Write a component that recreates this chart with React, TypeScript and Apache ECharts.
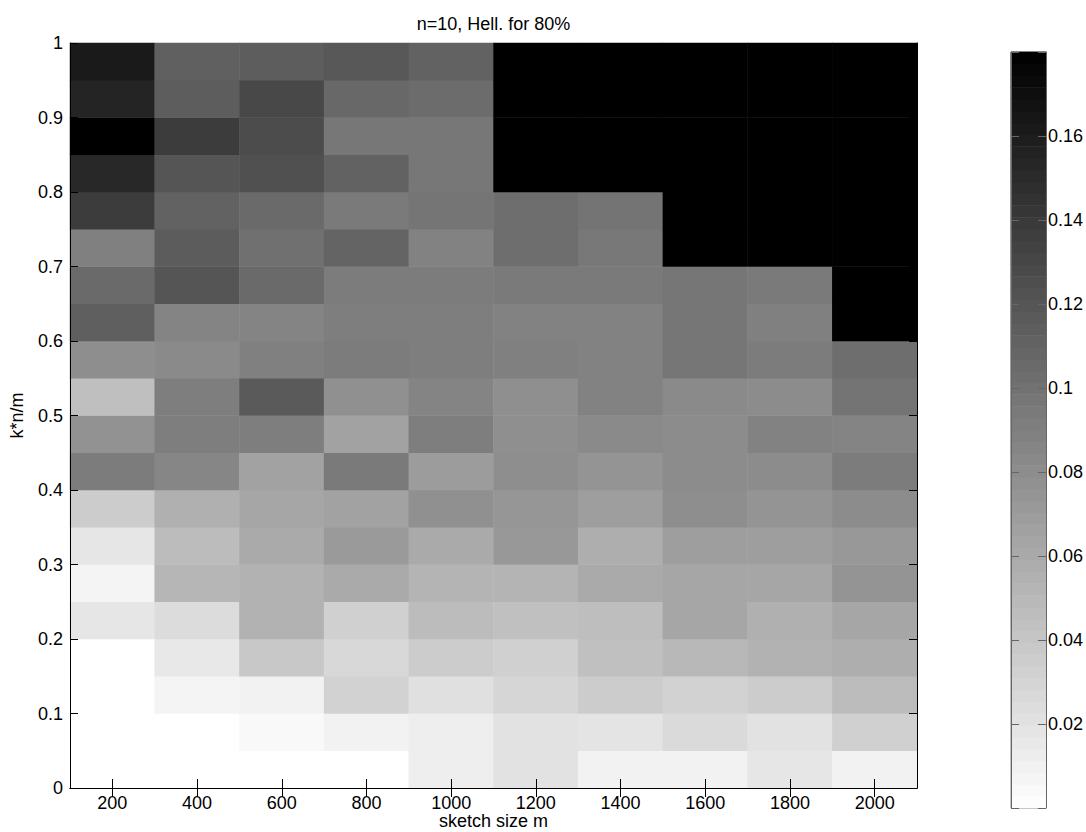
import React, { useEffect, useRef } from "react";
import * as echarts from "echarts";

// sketch size m (columns)
const sketchSizes = [200, 400, 600, 800, 1000, 1200, 1400, 1600, 1800, 2000];
// k*n/m bins (rows), lower edges from 0 to 0.95 in steps of 0.05
const ratioBins = [
  "0.00", "0.05", "0.10", "0.15", "0.20", "0.25", "0.30", "0.35", "0.40", "0.45",
  "0.50", "0.55", "0.60", "0.65", "0.70", "0.75", "0.80", "0.85", "0.90", "0.95",
];
const yTickLabels = [0, 0.1, 0.2, 0.3, 0.4, 0.5, 0.6, 0.7, 0.8, 0.9, 1];
const colorbarTicks = [0.02, 0.04, 0.06, 0.08, 0.1, 0.12, 0.14, 0.16];
const colorMax = 0.18;

// Hellinger error per sketch size, from k*n/m = 0.025 (bottom) up to 0.975 (top)
const hellM200 = [0.0, 0.0, 0.0, 0.0, 0.0176, 0.0078, 0.0176, 0.036, 0.0925, 0.0769, 0.0452, 0.0798, 0.1129, 0.1052, 0.0896, 0.1376, 0.1518, 0.18, 0.1546, 0.1616];
const hellM400 = [0.0, 0.0, 0.0078, 0.0162, 0.0247, 0.0515, 0.0473, 0.0558, 0.0854, 0.0911, 0.0911, 0.0826, 0.0868, 0.12, 0.1151, 0.1108, 0.12, 0.1376, 0.1144, 0.1122];
const hellM600 = [0.0, 0.0042, 0.0092, 0.0388, 0.0544, 0.0544, 0.06, 0.0628, 0.0656, 0.0911, 0.1165, 0.0896, 0.0868, 0.1052, 0.1009, 0.1052, 0.1235, 0.1264, 0.1292, 0.1144];
const hellM800 = [0.0, 0.0092, 0.0318, 0.0275, 0.0332, 0.06, 0.0713, 0.0656, 0.0939, 0.0656, 0.0784, 0.0925, 0.0911, 0.0925, 0.1094, 0.0939, 0.1108, 0.096, 0.1066, 0.1179];
const hellM1000 = [0.012, 0.012, 0.0219, 0.036, 0.0473, 0.0529, 0.06, 0.0784, 0.0699, 0.0911, 0.0868, 0.0911, 0.0911, 0.0925, 0.0882, 0.0974, 0.096, 0.096, 0.1038, 0.1108];
const hellM1200 = [0.0205, 0.0205, 0.0289, 0.0332, 0.0445, 0.0529, 0.0727, 0.0741, 0.0798, 0.0791, 0.0791, 0.0896, 0.0882, 0.0939, 0.1024, 0.1024, 0.18, 0.18, 0.18, 0.18];
const hellM1400 = [0.0092, 0.0191, 0.036, 0.0445, 0.0459, 0.06, 0.0572, 0.0685, 0.0755, 0.0826, 0.0882, 0.0882, 0.0882, 0.0939, 0.0953, 0.0981, 0.18, 0.18, 0.18, 0.18];
const hellM1600 = [0.0092, 0.0261, 0.0318, 0.0501, 0.0628, 0.0628, 0.0685, 0.0798, 0.0812, 0.0812, 0.0826, 0.0967, 0.0967, 0.0967, 0.18, 0.18, 0.18, 0.18, 0.18, 0.18];
const hellM1800 = [0.0176, 0.0205, 0.036, 0.0544, 0.0558, 0.0628, 0.0685, 0.0755, 0.0812, 0.0882, 0.0812, 0.0925, 0.0896, 0.0939, 0.18, 0.18, 0.18, 0.18, 0.18, 0.18];
const hellM2000 = [0.0092, 0.0332, 0.0473, 0.0572, 0.0628, 0.0755, 0.0727, 0.0812, 0.0925, 0.0868, 0.0981, 0.1024, 0.18, 0.18, 0.18, 0.18, 0.18, 0.18, 0.18, 0.18];

const columns = [hellM200, hellM400, hellM600, hellM800, hellM1000, hellM1200, hellM1400, hellM1600, hellM1800, hellM2000];

const colorLevels = 64;

const FONT = "'Liberation Sans', Arial, Helvetica, sans-serif";

export default function App() {
  const ref = useRef<HTMLDivElement>(null);

  useEffect(() => {
    if (!ref.current) return;
    const chart = echarts.init(ref.current, undefined, { renderer: "svg" });

    const heatData: number[][] = [];
    columns.forEach((col, xi) => {
      col.forEach((v, yi) => heatData.push([xi, yi, v]));
    });

    const levelCats: string[] = [];
    const barData: number[][] = [];
    for (let i = 0; i < colorLevels; i++) {
      levelCats.push(String(i));
      barData.push([0, i, ((i + 0.5) / colorLevels) * colorMax]);
    }

    const tickFmt1 = (v: number) => {
      const r = Math.round(v * 10) / 10;
      return yTickLabels.some((t) => Math.abs(t - r) < 1e-9) && Math.abs(v - r) < 1e-6 ? String(r) : "";
    };
    const tickFmtCb = (v: number) => {
      const r = Math.round(v * 100) / 100;
      return colorbarTicks.some((t) => Math.abs(t - v) < 1e-6) ? String(r) : "";
    };

    const textStyle = { fontFamily: FONT, fontSize: 18, color: "#000" };

    chart.setOption({
      animation: false,
      backgroundColor: "#ffffff",
      textStyle: { fontFamily: FONT },
      grid: [
        { left: 70, top: 43, width: 847, height: 745, show: false },
        { left: 1011, top: 52, width: 36, height: 756, show: true, borderColor: "#666666", borderWidth: 1, backgroundColor: "transparent" },
      ],
      visualMap: {
        type: "continuous",
        show: false,
        min: 0,
        max: colorMax,
        dimension: 2,
        seriesIndex: [0, 1],
        inRange: { color: ["#ffffff", "#000000"] },
      },
      xAxis: [
        {
          gridIndex: 0,
          type: "category",
          data: sketchSizes.map(String),
          position: "bottom",
          axisLine: { show: true, lineStyle: { color: "#000", width: 1 } },
          axisTick: { show: true, inside: true, length: 9, alignWithLabel: true, lineStyle: { color: "#000" } },
          axisLabel: { ...textStyle, margin: 6 },
          splitLine: { show: false },
          z: 10,
        },
        {
          gridIndex: 0,
          type: "category",
          data: sketchSizes.map(String),
          position: "top",
          axisLine: { show: true, lineStyle: { color: "#000", width: 1 } },
          axisTick: { show: true, inside: true, length: 9, alignWithLabel: true, lineStyle: { color: "#000" } },
          axisLabel: { show: false },
          splitLine: { show: false },
          z: 10,
        },
        {
          gridIndex: 1,
          type: "category",
          data: ["cb"],
          show: false,
        },
      ],
      yAxis: [
        {
          gridIndex: 0,
          type: "category",
          data: ratioBins,
          show: false,
        },
        {
          gridIndex: 0,
          type: "value",
          min: 0,
          max: 1,
          interval: 0.1,
          position: "left",
          axisLine: { show: true, lineStyle: { color: "#000", width: 1 } },
          axisTick: { show: true, inside: true, length: 8, lineStyle: { color: "#000" } },
          axisLabel: { ...textStyle, margin: 7, formatter: tickFmt1 },
          splitLine: { show: false },
          z: 10,
        },
        {
          gridIndex: 0,
          type: "value",
          min: 0,
          max: 1,
          interval: 0.1,
          position: "right",
          axisLine: { show: true, lineStyle: { color: "#000", width: 1 } },
          axisTick: { show: true, inside: true, length: 8, lineStyle: { color: "#000" } },
          axisLabel: { show: false },
          splitLine: { show: false },
          z: 10,
        },
        {
          gridIndex: 1,
          type: "category",
          data: levelCats,
          show: false,
        },
        {
          gridIndex: 1,
          type: "value",
          min: 0,
          max: colorMax,
          interval: 0.02,
          position: "right",
          axisLine: { show: true, lineStyle: { color: "#666666", width: 1 } },
          axisTick: { show: true, inside: true, length: 8, lineStyle: { color: "#666666" } },
          axisLabel: { ...textStyle, margin: 2, formatter: tickFmtCb },
          splitLine: { show: false },
          z: 10,
        },
        {
          gridIndex: 1,
          type: "value",
          min: 0,
          max: colorMax,
          interval: 0.02,
          position: "left",
          axisLine: { show: true, lineStyle: { color: "#666666", width: 1 } },
          axisTick: { show: true, inside: true, length: 8, lineStyle: { color: "#666666" } },
          axisLabel: { show: false },
          splitLine: { show: false },
          z: 10,
        },
      ],
      series: [
        {
          type: "heatmap",
          xAxisIndex: 0,
          yAxisIndex: 0,
          data: heatData,
          itemStyle: { borderWidth: 0 },
          emphasis: { disabled: true },
          progressive: 0,
          silent: true,
        },
        {
          type: "heatmap",
          xAxisIndex: 2,
          yAxisIndex: 3,
          data: barData,
          itemStyle: { borderWidth: 0 },
          emphasis: { disabled: true },
          progressive: 0,
          silent: true,
        },
      ],
      graphic: [
        {
          type: "text",
          x: 493.5,
          y: 24,
          style: { text: "n=10, Hell. for 80%", fontFamily: FONT, fontSize: 18, fill: "#000", align: "center", verticalAlign: "middle" },
        },
        {
          type: "text",
          x: 493.5,
          y: 821,
          style: { text: "sketch size m", fontFamily: FONT, fontSize: 18, fill: "#000", align: "center", verticalAlign: "middle" },
        },
        {
          type: "text",
          x: 17,
          y: 415.5,
          rotation: Math.PI / 2,
          style: { text: "k*n/m", fontFamily: FONT, fontSize: 18, fill: "#000", align: "center", verticalAlign: "middle" },
        },
      ],
    });

    return () => chart.dispose();
  }, []);

  return (
    <div
      ref={ref}
      style={{ position: "fixed", left: 0, top: 0, width: 1086, height: 832, background: "#fff" }}
    />
  );
}
